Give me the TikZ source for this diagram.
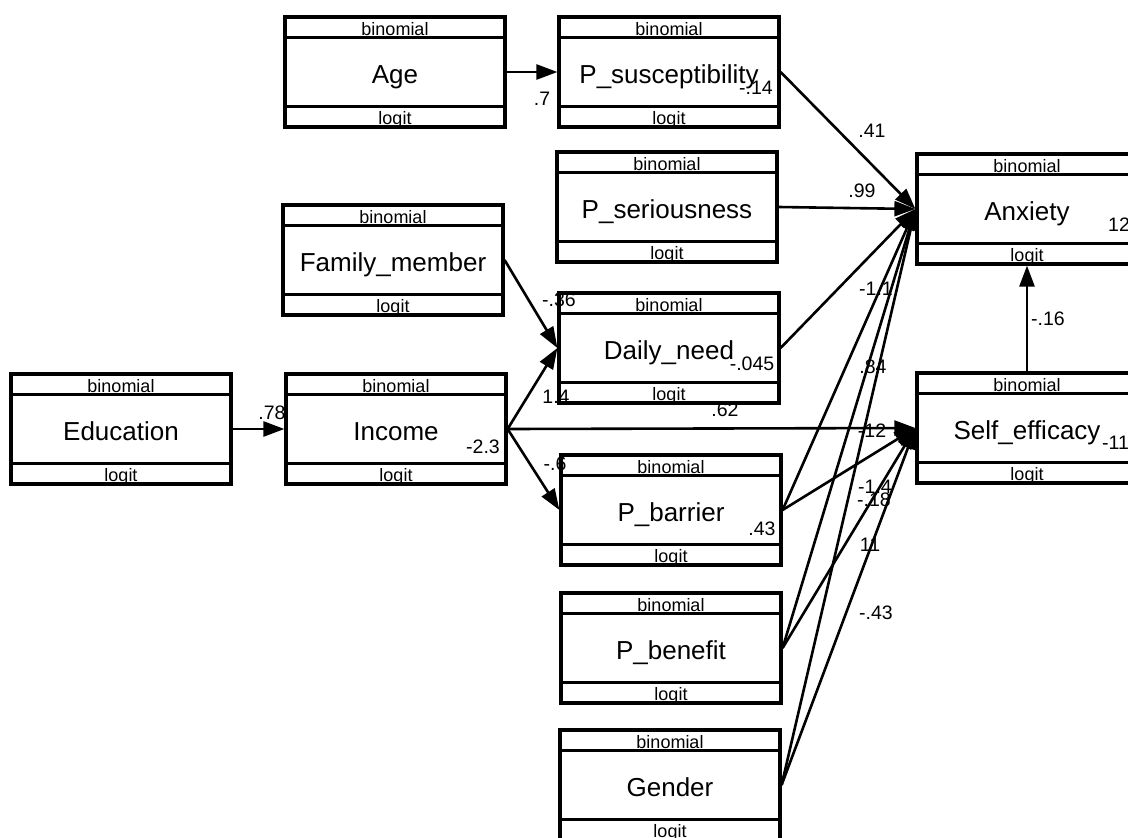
\documentclass[tikz,border=0pt]{standalone}
\usepackage{fontspec}
\setmainfont{Liberation Sans}
\usetikzlibrary{arrows.meta}

\tikzset{
  var/.style={draw, line width=3.2pt, minimum width=220pt, minimum height=110pt,
    inner sep=0pt, text height=22pt, text depth=0pt, font=\fontsize{26}{30}\selectfont},
  band/.style={inner sep=0pt, anchor=base, font=\fontsize{18}{20}\selectfont},
  coef/.style={inner sep=0pt, font=\fontsize{19.5}{22}\selectfont},
  link/.style={line width=2.6pt, -{Triangle[length=21pt,width=15pt]}},
}

\begin{document}
\begin{tikzpicture}[x=1pt,y=-1pt]
			\useasboundingbox (0,0) rectangle (1128,838);
			
			% boxes
			\node[var] (age)   at (395,72)   {Age};
			\node[var] (psus)  at (669,72)   {P\_susceptibility};
			\node[var] (pser)  at (667,207)  {P\_seriousness};
			\node[var] (fam)   at (393,260)  {Family\_member};
			\node[var] (daily) at (669,348)  {Daily\_need};
			\node[var] (edu)   at (121,429)  {Education};
			\node[var] (inc)   at (396,429)  {Income};
			\node[var] (pbar)  at (671,510)  {P\_barrier};
			\node[var] (pben)  at (671,648)  {P\_benefit};
			\node[var] (gen)   at (670,785)  {Gender};
			\node[var] (anx)   at (1027,209) {Anxiety};
			\node[var] (self)  at (1027,428) {Self\_efficacy};
			
			% family and link bands
			\foreach \v in {age,psus,pser,fam,daily,edu,inc,pbar,pben,gen,anx,self} {
				\draw[line width=3.2pt] ([yshift=-22pt]\v.north west) -- ([yshift=-22pt]\v.north east);
				\draw[line width=3.2pt] ([yshift=22pt]\v.south west) -- ([yshift=22pt]\v.south east);
				\node[band] (\v-fam) at ([yshift=-20pt]\v.north) {binomial};
				\node[band] (\v-lnk) at ([yshift=4pt]\v.south) {logit};
			}
			
			% intercepts
			\node[coef] (psus-c)  at (756,88)  {-.14};
			\node[coef] (daily-c) at (752,364) {-.045};
			\node[coef] (inc-c)   at (483,447) {-2.3};
			\node[coef] (pbar-c)  at (762,529) {.43};
			\node[coef,anchor=west] (anx-c)  at (1108,225) {12};
			\node[coef,anchor=west] (self-c) at (1102,443) {-11};
			
			% paths
			\draw[link] (age.east) -- (psus.west);
			\draw[link] (edu.east) -- (inc.west);
			\draw[link] (fam.east) -- (daily.west);
			\draw[link] (inc.east) -- (daily.west);
			\draw[link] (inc.east) -- (pbar.west);
			\draw[link] (inc.east) -- (self.west);
			\draw[link] (psus.east) -- (anx.west);
			\draw[link] (pser.east) -- (anx.west);
			\draw[link] (daily.east) -- (anx.west);
			\draw[link] (pbar.east) -- (anx.west);
			\draw[link] (pben.east) -- (anx.west);
			\draw[link] (gen.east) -- (anx.west);
			\draw[link] (pbar.east) -- (self.west);
			\draw[link] (pben.east) -- (self.west);
			\draw[link] (gen.east) -- (self.west);
			\draw[link] (self.north) -- (anx.south);
			
			% path coefficients
			\node[coef] (b-age)   at (542,99)   {.7};
			\node[coef] (b-edu)   at (272,413)  {.78};
			\node[coef] (b-fam)   at (559,300)  {-.36};
			\node[coef] (b-inc1)  at (556,397)  {1.4};
			\node[coef] (b-inc2)  at (555,464)  {-.6};
			\node[coef] (b-inc3)  at (725,410)  {.62};
			\node[coef] (b-psus)  at (872,131)  {.41};
			\node[coef] (b-pser)  at (862,191)  {.99};
			\node[coef] (b-pbar1) at (876,289)  {-1.1};
			\node[coef] (b-pben1) at (873,367)  {.84};
			\node[coef] (b-gen1)  at (872,431)  {-12};
			\node[coef] (b-pben2) at (875,487)  {-1.4};
			\node[coef] (b-pbar2) at (874,500)  {-.18};
			\node[coef] (b-gen2)  at (870,545)  {11};
			\node[coef] (b-daily) at (876,613)  {-.43};
			\node[coef] (b-self)  at (1048,319) {-.16};
			
		\end{tikzpicture}
\end{document}
